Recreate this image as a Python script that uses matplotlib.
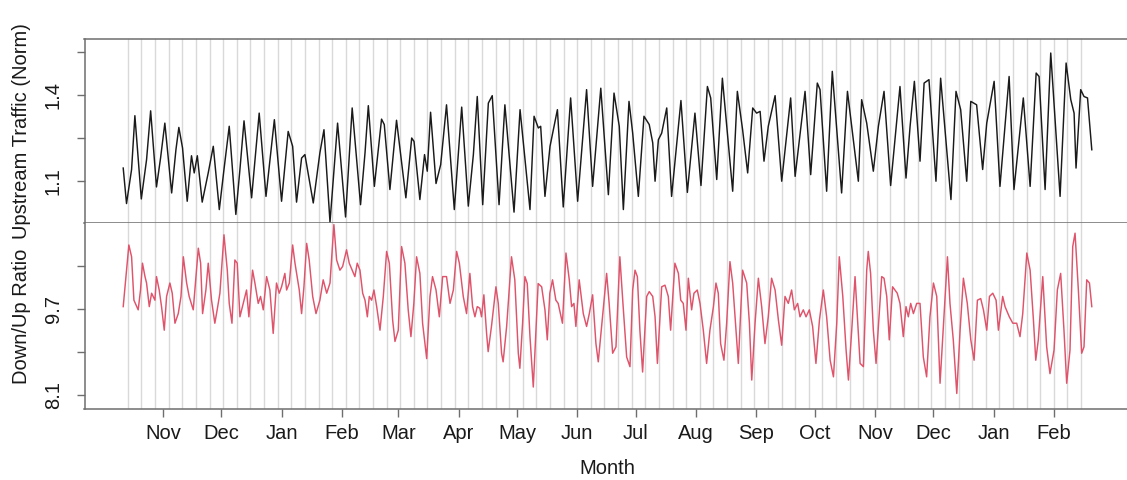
import numpy as np
import pandas as pd
import matplotlib
matplotlib.use("Agg")
import matplotlib.pyplot as plt
import matplotlib.dates as mdates

plt.rcParams['font.family'] = ['Liberation Sans', 'DejaVu Sans']

# dias desde 2019-11-01
START = pd.Timestamp("2019-11-01")

up_days = [
    -20.4, -18.7, -16.1, -14.4, -11.1, -8.4, -6.3, -3.3, -1.2, 1.0, 4.5, 6.7, 8.2, 10.1,
    12.5, 14.7, 16.1, 17.7, 20.2, 23.3, 25.9, 29.0, 31.4, 34.1, 37.5, 39.6, 41.7, 45.6,
    49.5, 53.0, 57.3, 61.0, 64.4, 66.7, 68.7, 71.3, 73.0, 77.3, 80.7, 82.8, 85.9, 89.8,
    93.9, 97.3, 101.6, 103.9, 105.6, 108.7, 112.4, 113.8, 116.7, 120.1, 124.9, 127.9,
    129.1, 132.1, 134.5, 135.9, 137.6, 140.4, 142.8, 145.8, 149.8, 153.6, 157.0, 159.6,
    161.6, 164.4, 167.3, 169.3, 172.8, 175.8, 180.5, 183.6, 188.7, 190.8, 193.0, 194.2,
    196.4, 199.0, 202.8, 205.8, 209.6, 213.2, 217.8, 220.9, 225.1, 229.0, 231.9, 234.6,
    236.7, 239.6, 241.5, 244.4, 247.3, 250.0, 251.8, 253.0, 254.7, 256.4, 259.0, 261.5,
    266.3, 269.6, 273.5, 276.6, 279.9, 281.6, 284.7, 287.6, 292.9, 295.3, 298.0, 300.6,
    303.2, 305.2, 307.0, 309.0, 311.2, 314.7, 318.1, 322.7, 325.0, 330.1, 333.0, 336.4,
    337.8, 341.2, 344.1, 348.9, 351.9, 357.5, 359.2, 361.8, 365.2, 367.8, 370.7, 374.1,
    378.9, 382.0, 384.1, 386.3, 389.2, 391.3, 393.8, 397.4, 399.8, 405.1, 407.7, 410.1,
    413.2, 415.3, 418.3, 421.4, 423.5, 427.3, 430.3, 435.0, 437.5, 442.3, 445.8, 448.9,
    450.4, 453.5, 456.4, 461.2, 464.3, 466.7, 468.4, 469.4, 471.8, 473.5, 475.3, 477.5,
]
up_vals = [
    1.145, 1.021, 1.140, 1.328, 1.037, 1.174, 1.345, 1.079, 1.180, 1.302, 1.058, 1.209, 1.287, 1.215,
    1.029, 1.188, 1.128, 1.188, 1.026, 1.128, 1.221, 1.000, 1.140, 1.291, 0.983, 1.140, 1.310, 1.041,
    1.337, 1.046, 1.314, 1.029, 1.273, 1.221, 1.026, 1.180, 1.192, 1.023, 1.198, 1.279, 0.956, 1.302,
    0.974, 1.355, 1.017, 1.198, 1.363, 1.081, 1.316, 1.297, 1.070, 1.312, 1.041, 1.250,
    1.238, 1.035, 1.192, 1.134, 1.340, 1.091, 1.157, 1.366, 1.000, 1.358, 1.012, 1.192,
    1.395, 1.017, 1.372, 1.398, 1.017, 1.366, 0.991, 1.349, 1.000, 1.326, 1.285, 1.291,
    1.046, 1.221, 1.349, 1.009, 1.390, 1.029, 1.419, 1.081, 1.424, 1.052, 1.407, 1.291,
    1.000, 1.378, 1.267, 1.046, 1.326, 1.297, 1.233, 1.099, 1.244, 1.267, 1.355, 1.046,
    1.381, 1.060, 1.337, 1.084, 1.430, 1.390, 1.105, 1.459, 1.064, 1.413, 1.279, 1.128,
    1.355, 1.337, 1.343, 1.169, 1.291, 1.398, 1.099, 1.390, 1.116, 1.413, 1.122, 1.442,
    1.419, 1.064, 1.483, 1.058, 1.413, 1.099, 1.384, 1.302, 1.134, 1.291, 1.413, 1.084,
    1.430, 1.110, 1.291, 1.448, 1.169, 1.442, 1.454, 1.099, 1.459, 1.035, 1.413, 1.349,
    1.099, 1.378, 1.366, 1.140, 1.302, 1.448, 1.081, 1.465, 1.070, 1.390, 1.081, 1.477,
    1.465, 1.070, 1.547, 1.046, 1.512, 1.384, 1.337, 1.145, 1.419, 1.395, 1.390, 1.209,
]

ratio_days = [
    -20.4, -17.5, -16.1, -14.9, -12.7, -11.5, -10.5, -9.2, -8.4, -7.0, -5.8, -4.1, -3.3, -1.9,
    -0.7, 0.7, 1.9, 3.6, 4.8, 6.2, 7.9, 9.3, 10.5, 12.2, 13.5, 15.6, 18.2, 19.4, 20.4, 22.1,
    23.3, 25.0, 26.7, 27.9, 29.3, 31.4, 33.1, 34.1, 35.5, 37.0, 38.2, 39.6, 41.3, 43.0, 44.2,
    46.1, 47.3, 49.0, 50.2, 51.6, 53.3, 55.0, 56.7, 58.4, 59.8, 61.0, 62.7, 63.6, 65.0, 66.7,
    67.9, 70.1, 71.3, 72.5, 73.9, 75.2, 77.0, 78.7, 80.7, 82.4, 84.2, 85.9, 87.9, 89.3, 91.0,
    92.4, 94.4, 95.8, 98.7, 99.9, 101.3, 102.7, 103.9, 105.1, 106.1, 107.3, 108.5, 109.9,
    111.6, 113.3, 115.0, 116.4, 118.1, 119.3, 121.0, 122.7, 124.4, 126.1, 127.5, 129.0,
    130.4, 132.1, 133.5, 135.6, 137.3, 138.6, 140.4, 142.1, 143.8, 145.8, 147.6, 149.3,
    151.0, 152.4, 154.4, 156.1,
    157.8, 159.2, 160.4, 161.6, 162.9, 163.8, 165.0, 166.4, 167.2, 168.9, 171.2, 172.4,
    174.1, 174.9, 176.7, 179.2, 180.9, 182.7, 183.5, 184.9, 186.1, 187.3, 188.7, 190.4,
    191.7, 192.9, 194.7, 196.4, 197.6, 198.9, 200.3, 202.0, 203.2, 205.4, 207.2, 208.9,
    210.1, 211.3, 212.3, 214.0, 216.1, 217.8, 219.2, 220.9, 222.6, 223.8, 225.5, 228.1,
    229.4, 231.2, 232.9, 234.9, 236.6, 238.4, 240.1,
    241.5, 242.7, 243.9,
    245.2, 246.6, 248.7, 250.0, 251.8, 253.0, 254.2, 256.4, 258.1, 259.8, 261.0, 263.2,
    265.0, 266.2, 267.5, 268.9, 270.1, 271.8, 273.0, 274.7, 276.1, 277.8, 279.5, 281.2,
    283.0, 284.3, 285.5, 286.7, 288.4, 289.8, 291.5, 292.9, 294.6, 295.8, 298.0, 300.1,
    301.5, 302.7, 304.4, 306.1, 307.8, 309.5, 311.2, 312.9, 314.7, 316.4, 318.1, 319.8,
    321.5, 323.2, 324.6, 326.3, 327.5, 329.2, 330.6, 332.3, 334.0, 335.7, 337.5, 339.5,
    341.2, 343.0, 344.7, 346.4, 347.7, 349.5, 351.2, 352.4, 354.1, 355.8, 358.4, 360.1,
    361.8, 362.6, 363.8, 365.2, 366.6, 367.8, 369.5, 370.7, 372.1, 373.4, 375.1, 376.3,
    377.5, 378.9, 380.6, 382.0, 383.2, 384.4, 385.8, 387.5, 389.2, 390.9, 392.6, 394.3,
    396.1, 397.8, 399.5, 401.2, 403.3, 404.6, 406.3, 408.1, 409.8, 411.5, 413.5, 415.3,
    417.0, 418.7, 420.4, 421.8, 423.5, 424.9, 426.6, 428.3, 429.5, 431.7, 432.9, 435.1,
    436.9, 438.9, 440.6, 442.0, 444.1, 445.8, 447.5, 448.7, 450.0, 452.3, 454.3, 456.0,
    458.1, 459.8, 461.5, 463.2, 464.6, 466.3, 467.7, 468.9, 470.6, 472.3, 473.5, 474.9,
    476.3, 477.5,
]
ratio_vals = [
    9.75, 10.90, 10.68, 9.87, 9.69, 10.06, 10.56, 10.31, 10.19, 9.75, 10.00, 9.87, 10.31, 10.06,
    9.75, 9.31, 9.94, 10.19, 10.00, 9.44, 9.62, 9.94, 10.68, 10.19, 9.94, 9.69, 10.84, 10.56, 9.62, 10.06,
    10.56, 9.87, 9.44, 9.69, 10.00, 11.09, 10.43, 9.81, 9.44, 10.62, 10.56, 9.56, 9.81, 10.06, 9.56,
    10.43, 10.19, 9.81, 9.94, 9.69, 10.31, 10.06, 9.25, 10.19, 10.00, 10.12, 10.37, 10.06, 10.19, 10.90,
    10.56, 10.06, 9.62, 10.12, 10.93, 10.62, 9.94, 9.62, 9.87, 10.25, 10.00, 10.19, 11.28, 10.62, 10.43,
    10.50, 10.81, 10.56, 10.31, 10.56, 10.43, 10.00, 9.87, 9.56, 9.94, 9.87, 10.06, 9.75,
    9.31, 9.94, 10.78, 10.56, 9.50, 9.10, 9.31, 10.87, 10.56, 9.69, 9.19, 9.81,
    10.68, 10.37, 9.44, 8.78, 9.94, 10.31, 10.06, 9.56, 10.31, 10.31, 9.81, 10.06,
    10.78, 10.56, 9.94, 9.62,
    10.37, 9.75, 9.56, 9.75, 9.72, 9.56, 9.97, 9.25, 8.91, 9.38, 10.12, 9.81,
    8.88, 8.72, 9.38, 10.68, 10.25, 8.88, 8.60, 9.44, 10.31, 10.18, 9.19, 8.25,
    9.25, 10.18, 10.12, 9.69, 9.13, 10.00, 10.25, 9.87, 9.81, 9.44, 10.75, 10.25,
    9.75, 9.81, 9.38, 10.25, 9.62, 9.38, 9.62, 9.97, 9.06, 8.72, 9.38, 10.37,
    9.81, 8.88, 9.00, 10.68, 9.75, 8.81, 8.63,
    10.06, 10.43, 10.31,
    9.31, 8.53, 9.94, 10.03, 9.94, 9.56, 8.69, 10.12, 10.15, 9.94, 9.31, 10.56,
    10.37, 9.87, 9.81, 9.31, 10.28, 9.69, 10.00, 10.06, 9.81, 9.31, 8.69, 9.31,
    9.75, 10.19, 10.00, 9.06, 8.75, 9.44, 10.59, 10.19, 9.31, 8.69, 10.43, 10.19,
    9.44, 8.38, 9.44, 10.28, 9.75, 9.06, 9.56, 10.28, 10.06, 9.50, 9.03, 9.94,
    9.81, 10.06, 9.69, 9.81, 9.56, 9.69, 9.56, 9.69, 9.38, 8.69, 9.50, 10.06,
    9.56, 8.75, 8.44, 9.44, 10.68, 9.94, 8.94, 8.38, 9.31, 10.31, 8.69, 8.63,
    10.43, 10.78, 10.37, 9.31, 8.69, 9.38, 10.31, 10.28, 9.94, 9.13, 10.12, 10.06,
    10.00, 9.81, 9.19, 9.75, 9.56, 9.81, 9.62, 9.81, 9.81, 8.81, 8.44, 9.56,
    10.19, 9.94, 8.32, 9.38, 10.68, 9.81, 9.13, 8.13, 9.31, 10.28, 9.81, 9.13,
    8.75, 9.87, 9.90, 9.69, 9.31, 9.94, 10.00, 9.87, 9.31, 9.94, 9.75, 9.56,
    9.44, 9.44, 9.19, 9.62, 10.75, 10.43, 9.50, 8.75, 9.13, 10.31, 9.00, 8.50,
    8.94, 10.06, 10.37, 9.31, 8.32, 8.94, 10.87, 11.12, 10.06, 8.88, 9.00, 10.25,
    10.19, 9.75,
]

# lineas semanales grises y meses del eje
week_lines = pd.date_range("2019-10-14", periods=71, freq="7D")
month_ticks = pd.date_range("2019-11-01", "2021-02-01", freq="MS")


def to_dates(days):
    return (START + pd.to_timedelta(np.array(days), unit="D")).to_numpy()


W, H = 1127, 480
fig = plt.figure(figsize=(W / 100, H / 100), dpi=100)

left = 84.5 / W
width = (1130.5 - 84.5) / W
ax_top = fig.add_axes([left, 1 - 223 / H, width, (223 - 39) / H])
ax_bot = fig.add_axes([left, 1 - 409 / H, width, (409 - 223) / H], sharex=ax_top)

spine_col = "#6e6e6e"
for ax in (ax_top, ax_bot):
    for wl in week_lines:
        ax.axvline(wl, color="#d9d9d9", lw=1.0, zorder=0)
    for s in ax.spines.values():
        s.set_color(spine_col)
        s.set_linewidth(1.1)
    ax.spines["right"].set_visible(False)
    ax.tick_params(axis="y", direction="out", length=5.5, width=1.0, color=spine_col,
                   labelsize=14.5, labelcolor="#1a1a1a", pad=10)

ax_top.plot(to_dates(up_days), up_vals, color="#1a1a1a", lw=1.05,
            solid_joinstyle="round")
ax_bot.plot(to_dates(ratio_days), ratio_vals, color="#DF536B", lw=1.05,
            solid_joinstyle="round")

ax_top.set_ylim(0.953, 1.596)
ax_bot.set_ylim(7.84, 11.31)
ax_top.set_yticks([1.1, 1.25, 1.4, 1.55])
ax_top.set_yticklabels(["1.1", "", "1.4", ""], rotation=90, va="center")
ax_bot.set_yticks([8.1, 8.9, 9.7, 10.5])
ax_bot.set_yticklabels(["8.1", "", "9.7", ""], rotation=90, va="center")
ax_bot.spines["top"].set_visible(False)

ax_top.tick_params(axis="x", bottom=False, labelbottom=False)
ax_bot.set_xlim(START + pd.Timedelta(days=-40.3), START + pd.Timedelta(days=497.4))
ax_bot.set_xticks(month_ticks)
ax_bot.xaxis.set_major_formatter(mdates.DateFormatter("%b"))
ax_bot.tick_params(axis="x", direction="out", length=5.5, width=1.0, color=spine_col,
                   labelsize=14.5, labelcolor="#1a1a1a", pad=5)

fig.text(22 / W, 1 - 131 / H, "Upstream Traffic (Norm)", rotation=90, ha="center",
         va="center", fontsize=14.5, color="#1a1a1a")
fig.text(22 / W, 1 - 316 / H, "Down/Up Ratio", rotation=90, ha="center",
         va="center", fontsize=14.5, color="#1a1a1a")
fig.text(607 / W, 1 - 469 / H, "Month", ha="center", va="center", fontsize=14.5,
         color="#1a1a1a")

fig.savefig("out.png", dpi=100)
